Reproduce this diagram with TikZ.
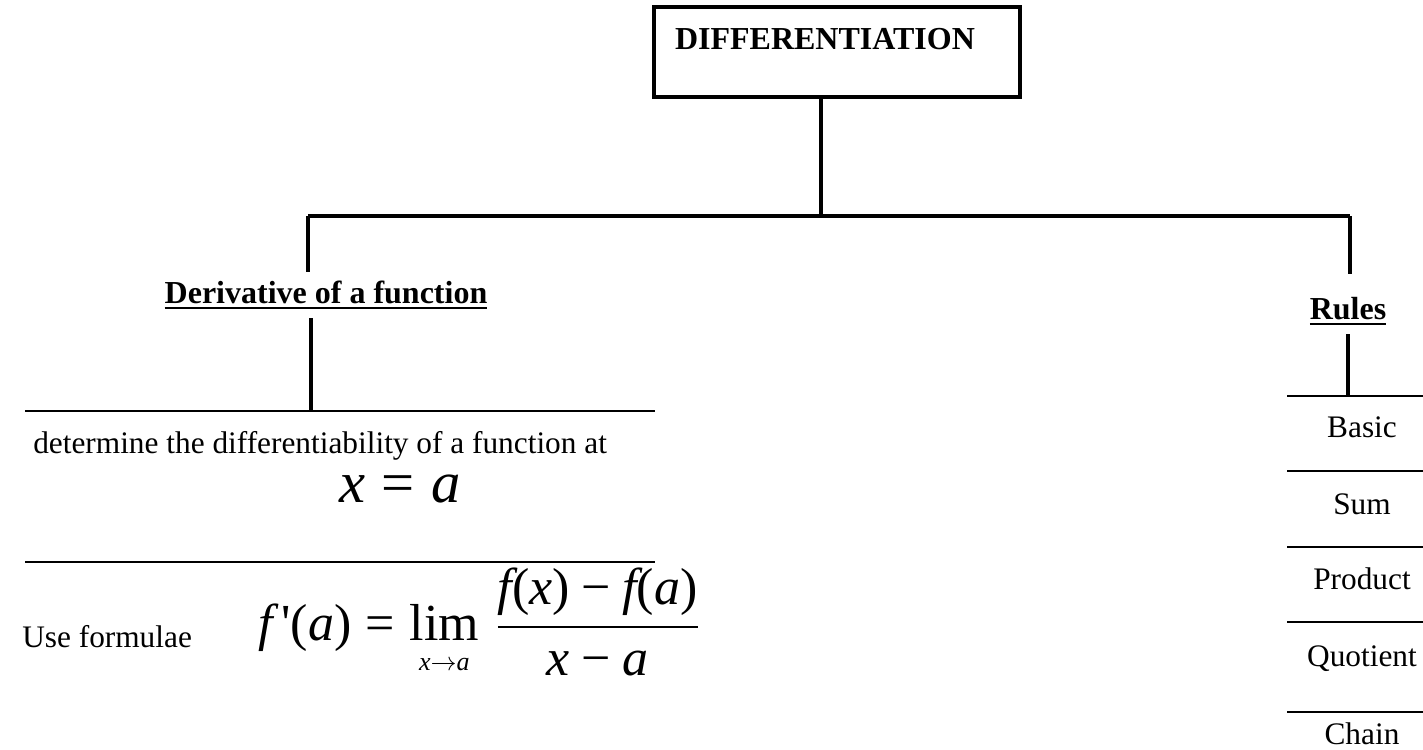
\RequirePackage{fix-cm}
\documentclass[tikz,border=0pt]{standalone}
\usepackage{amsmath}
\usepackage{fontspec}
\setmainfont{Liberation Serif}
\usetikzlibrary{positioning}
\newcommand{\tv}[1]{\text{\itshape #1}}
\newcommand{\tp}[1]{\text{#1}}

\begin{document}
\begin{tikzpicture}[
    x=0.75pt, y=-0.75pt,
    every node/.style={font=\fontsize{23.5}{28}\selectfont, inner sep=0pt},
    titlebox/.style={draw, line width=3pt, minimum width=274.5pt, minimum height=67.5pt, inner xsep=15.75pt, text width=243pt, align=left, text height=30pt, text depth=33pt, font=\fontsize{24}{28}\selectfont\bfseries},
    heading/.style={font=\fontsize{24}{28}\selectfont\bfseries, anchor=base, inner ysep=6pt},
    ruleitem/.style={anchor=base},
    bigmath/.style={font=\fontsize{44}{52}\selectfont, anchor=base},
    formula/.style={font=\fontsize{39}{46}\selectfont, anchor=base west},
    stemline/.style={line width=3pt},
    sepline/.style={line width=1.5pt}
  ]
  \useasboundingbox (0,0) rectangle (1423,749);

  % Nodes
  \node[titlebox] (diff) at (837,52) {DIFFERENTIATION};
  \node[heading] (deriv) at (326,303) {\underline{Derivative of a function}};
  \node[heading] (rules) at (1348,319) {\underline{Rules}};
  \node[anchor=base west] (diffty) at (33,453) {determine the differentiability of a function at};
  \node[bigmath] (xa) at (400,502) {$\tv{x} \mathrel{\tp{=}} \tv{a}$};
  \node[anchor=base west] (use) at (22,647) {Use formulae};
  \node[formula] (lim) at (258,640)
    {$\displaystyle \tv{f}\,\tp{\textquotesingle}\tp{(}\tv{a}\tp{)} \mathrel{\tp{=}} \mathop{\tp{lim}}\limits_{\scriptscriptstyle\rule{0pt}{19pt}\tv{x}\to\tv{a}}\,
      \frac{\tv{f}\tp{(}\tv{x}\tp{)} \mathbin{\tp{\char"2212}} \tv{f}\tp{(}\tv{a}\tp{)}}{\tv{x} \mathbin{\tp{\char"2212}} \tv{a}}$};
  \foreach \nm/\lbl/\yb in {basic/Basic/437, sum/Sum/514, prod/Product/589, quot/Quotient/666, chain/Chain/744}
    \node[ruleitem] (\nm) at (1362,\yb) {\lbl};

  % Separators
  \draw[sepline] (25,411) -- (655,411);
  \draw[sepline] (25,562) -- (655,562);
  \foreach \yl in {396,471,547,622,712}
    \draw[sepline] (1287,\yl) -- (1423,\yl);

  % Connections
  \coordinate (hub) at (821,216);
  \coordinate (barL) at (308,216);
  \coordinate (barR) at (1350,216);
  \coordinate (dl) at (311,411);
  \coordinate (rl) at (1348,396);
  \draw[stemline] (hub |- diff.south) -- (hub);
  \draw[stemline] (barL) -- (barR);
  \draw[stemline] (barL) -- (barL |- deriv.north);
  \draw[stemline] (barR) -- ([yshift=11pt]barR |- rules.north);
  \draw[stemline] (dl |- deriv.south) -- (dl);
  \draw[stemline] (rl |- rules.south) -- (rl);
\end{tikzpicture}
\end{document}
